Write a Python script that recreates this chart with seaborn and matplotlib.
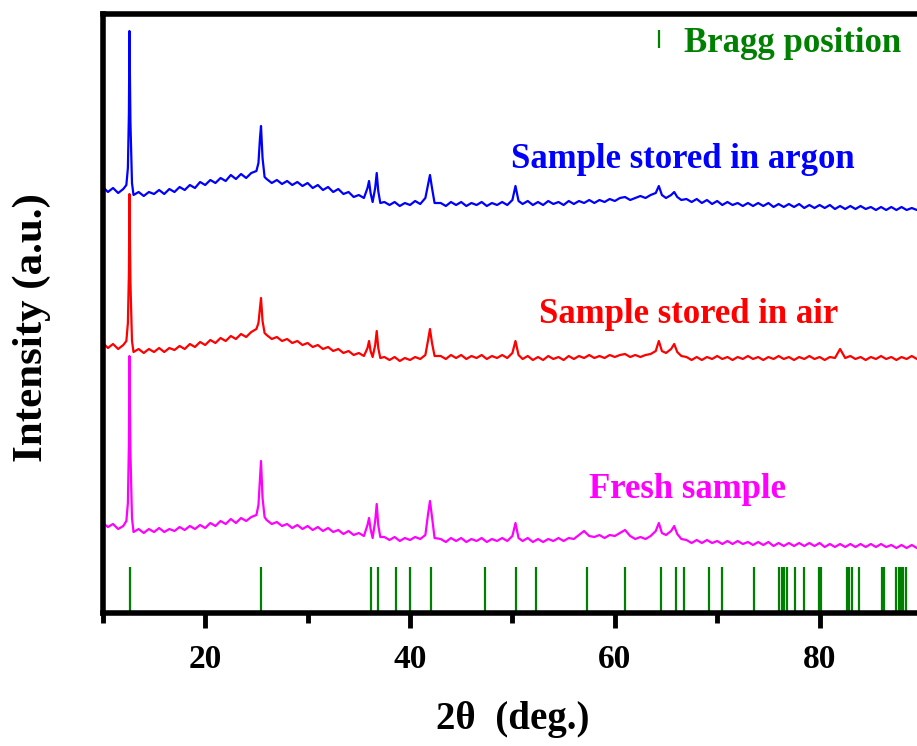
import matplotlib
matplotlib.use("Agg")
import matplotlib.pyplot as plt
import numpy as np
import pandas as pd
import seaborn as sns
from matplotlib.lines import Line2D

# ---------------- data ----------------
two_theta = [
    10.0, 10.5, 11.0, 11.5, 12.0,
    12.3, 12.45, 12.55, 12.6, 12.7, 12.85,
    13.0, 13.5, 14.0, 14.5, 15.0, 15.5, 16.0, 16.5, 17.0, 17.5, 18.0, 18.5, 19.0,
    19.5, 20.0, 20.5, 21.0, 21.5, 22.0, 22.5, 23.0, 23.5, 24.0, 24.5, 25.0,
    25.2, 25.35, 25.45, 25.6, 25.8,
    26.0, 26.5, 27.0, 27.5, 28.0, 28.5, 29.0, 29.5, 30.0, 30.5, 31.0, 31.5, 32.0,
    32.5, 33.0, 33.5, 34.0, 34.5, 35.0, 35.5,
    35.85, 36.0, 36.15, 36.35, 36.6, 36.75, 36.9, 37.1,
    37.5, 38.0, 38.5, 39.0, 39.5, 40.0, 40.5, 41.0, 41.5,
    41.75, 41.95, 42.15, 42.4,
    43.0, 43.5, 44.0, 44.5, 45.0, 45.5, 46.0, 46.5, 47.0, 47.5, 48.0, 48.5, 49.0,
    49.5, 50.0,
    50.3, 50.6,
    51.0, 51.5, 52.0, 52.5, 53.0, 53.5, 54.0, 54.5, 55.0, 55.5, 56.0, 56.5, 57.0,
    57.5, 58.0, 58.5, 59.0, 59.5, 60.0, 60.5, 61.0, 61.5, 62.0, 62.5, 63.0, 63.5,
    64.0,
    64.3, 64.6,
    65.0, 65.5, 65.8, 66.1, 66.5,
    67.0, 67.5, 68.0, 68.5, 69.0, 69.5, 70.0, 70.5, 71.0, 71.5, 72.0, 72.5, 73.0,
    73.5, 74.0, 74.5, 75.0, 75.5, 76.0, 76.5, 77.0, 77.5, 78.0, 78.5, 79.0, 79.5,
    80.0, 80.5, 81.0, 81.5, 82.0, 82.5, 83.0, 83.5, 84.0, 84.5, 85.0, 85.5, 86.0,
    86.5, 87.0, 87.5, 88.0, 88.5, 89.0, 89.5, 90.0,
]

argon = [
    426, 421, 425, 420, 424,
    428, 445, 500, 582, 490, 430,
    418, 421, 417, 421, 419, 423, 419, 424, 421, 426, 423, 428, 425,
    431, 428, 433, 430, 435, 432, 438, 434, 439, 435, 440, 442,
    450, 475, 487, 455, 436,
    434, 430, 433, 429, 432, 428, 431, 427, 430, 425, 428, 423, 426,
    421, 424, 419, 421, 416, 418, 415,
    425, 432, 420, 411, 425, 440, 422, 410,
    411, 408, 411, 407, 410, 408, 412, 409, 415,
    428, 438, 425, 410,
    410, 407, 411, 408, 411, 407, 410, 408, 411, 407, 410, 408, 411,
    408, 413,
    427, 412,
    409, 412, 408, 411, 408, 412, 409, 411, 408, 412, 409, 412, 410,
    413, 410, 413, 411, 414, 412, 415, 416, 413, 415, 417, 415, 418,
    420,
    427, 418,
    415, 418, 421, 416, 413,
    414, 411, 414, 410, 413, 409, 412, 408, 411, 408, 410, 407, 410,
    407, 410, 407, 410, 406, 409, 406, 409, 406, 409, 405, 408, 405,
    408, 405, 408, 404, 407, 404, 407, 404, 407, 404, 406, 403, 406,
    403, 406, 403, 406, 403, 405, 403, 405,
]

air = [
    270, 265, 269, 264, 268,
    272, 290, 340, 419, 330, 272,
    261, 264, 260, 264, 261, 265, 261, 265, 263, 267, 264, 269, 266,
    271, 268, 273, 270, 275, 272, 277, 274, 279, 276, 281, 284,
    290, 305, 315, 292, 280,
    278, 274, 276, 272, 274, 270, 272, 268, 270, 266, 268, 264, 266,
    262, 264, 260, 262, 258, 260, 257,
    265, 272, 262, 256, 268, 282, 265, 255,
    256, 253, 256, 252, 255, 253, 256, 254, 258,
    272, 284, 270, 257,
    257, 254, 258, 255, 258, 254, 257, 255, 258, 254, 257, 255, 258,
    255, 260,
    272, 258,
    254, 257, 253, 256, 253, 257, 254, 256, 253, 257, 254, 257, 255,
    258, 255, 257, 255, 258, 256, 258, 259, 256, 258, 256, 258, 259,
    262,
    272, 262,
    260, 264, 269, 261, 257,
    256, 253, 256, 253, 256, 254, 257, 254, 256, 253, 256, 254, 257,
    254, 256, 253, 256, 254, 257, 254, 256, 253, 256, 254, 257, 254,
    256, 253, 256, 255, 264, 255, 257, 254, 256, 253, 256, 254, 257,
    254, 256, 253, 256, 254, 257, 254, 256,
]

fresh = [
    90, 86, 89, 84, 87,
    92, 110, 170, 257, 160, 95,
    81, 84, 80, 84, 81, 85, 81, 84, 82, 86, 83, 87, 84,
    88, 85, 90, 87, 92, 89, 94, 90, 95, 92, 96, 98,
    108, 135, 152, 115, 96,
    93, 89, 91, 87, 89, 85, 88, 84, 87, 83, 86, 82, 85,
    81, 83, 79, 82, 78, 80, 77,
    88, 95, 84, 75, 92, 109, 88, 76,
    76, 73, 76, 72, 75, 73, 76, 74, 78,
    98, 112, 96, 75,
    74, 71, 75, 72, 75, 71, 74, 72, 75, 71, 74, 72, 75,
    72, 77,
    90, 75,
    72, 75, 71, 74, 71, 74, 72, 75, 72, 75, 74, 78, 82,
    77, 76, 78, 75, 78, 77, 80, 83, 77, 74, 76, 74, 77,
    82,
    90, 80,
    78, 82, 87, 79, 74,
    73, 70, 73, 70, 73, 70, 72, 69, 72, 69, 72, 69, 71,
    68, 71, 68, 71, 67, 70, 67, 70, 67, 70, 67, 70, 67,
    70, 66, 69, 66, 69, 66, 69, 66, 69, 66, 69, 66, 69,
    66, 68, 65, 68, 65, 68, 65, 68,
]

bragg_positions = [
    12.66, 25.45, 36.15, 36.9, 38.6, 40.0, 42.03, 47.29, 50.38, 52.26, 57.3,
    61.04, 64.49, 66.02, 66.73, 69.17, 70.47, 73.55, 76.08, 76.28, 76.5, 76.8,
    77.6, 78.5, 79.9, 80.1, 82.7, 82.9, 83.2, 83.86, 86.1, 86.25, 87.5, 87.75,
    87.94, 88.17, 88.4,
]
bragg_height = 46

series_names = ["Sample stored in argon", "Sample stored in air", "Fresh sample"]
series_colors = ["#0000FF", "#FF0000", "#FF00FF"]
bragg_label = "Bragg position"
bragg_color = "#008000"

x_major_ticks = [20, 40, 60, 80]
x_minor_ticks = [10, 30, 50, 70, 90]
x_label = "2\u03b8  (deg.)"
y_label = "Intensity (a.u.)"

# ---------------- build table ----------------
frames = []
for name, vals in zip(series_names, [argon, air, fresh]):
    frames.append(pd.DataFrame({"two_theta": two_theta, "intensity": vals, "sample": name}))
df = pd.concat(frames, ignore_index=True)

# ---------------- style ----------------
sns.set_theme(style="white")
plt.rcParams["font.family"] = ["Liberation Serif", "DejaVu Serif"]
plt.rcParams["font.weight"] = "bold"
plt.rcParams["text.color"] = "black"

W, H = 917, 746
fig = plt.figure(figsize=(W / 100, H / 100), dpi=100)
ax = fig.add_axes([102.8 / W, 133 / H, 819.2 / W, 599 / H])

sns.lineplot(
    data=df, x="two_theta", y="intensity", hue="sample",
    hue_order=series_names, palette=dict(zip(series_names, series_colors)),
    estimator=None, sort=False, linewidth=1.6, legend=False, ax=ax,
)

ax.vlines(bragg_positions, 0, bragg_height, color=bragg_color, linewidth=1.6)

# curve annotations
label_pos = {
    "Sample stored in argon": (66.6, 445),
    "Sample stored in air": (67.2, 290),
    "Fresh sample": (67.1, 115),
}
for name, col in zip(series_names, series_colors):
    x, y = label_pos[name]
    ax.text(x, y, name, color=col, fontsize=25, fontweight="bold",
            ha="center", va="baseline")

# Bragg legend
handle = Line2D([], [], color=bragg_color, marker="|", linestyle="None",
                markersize=13, markeredgewidth=1.6)
leg = ax.legend([handle], [bragg_label], loc="center left",
                bbox_to_anchor=(645.6 / W, 1 - 43 / H),
                bbox_transform=fig.transFigure, frameon=False,
                borderpad=0, borderaxespad=0, handlelength=0.8,
                handletextpad=0.3,
                prop={"family": "Liberation Serif", "weight": "bold", "size": 25})
for t in leg.get_texts():
    t.set_color(bragg_color)

# axes
ax.set_xlim(10, 90)
ax.set_ylim(0, 599)
ax.set_xticks(x_major_ticks)
ax.set_xticks(x_minor_ticks, minor=True)
ax.set_yticks([])
ax.tick_params(axis="x", which="major", direction="out", bottom=True,
               length=11, width=3.5, pad=11, labelsize=24, color="black",
               labelcolor="black")
ax.tick_params(axis="x", which="minor", direction="out", bottom=True,
               length=7, width=3.5, color="black")
for lab in ax.get_xticklabels():
    lab.set_fontweight("bold")

for s in ax.spines.values():
    s.set_linewidth(4)
    s.set_color("black")
    s.set_visible(True)

ax.set_xlabel(x_label, fontsize=28, fontweight="bold", color="black", va="center")
ax.xaxis.set_label_coords(0.5, (613 - 719) / 599)
ax.set_ylabel(y_label, fontsize=31, fontweight="bold", color="black", va="center")
ax.yaxis.set_label_coords((32 - 102.8) / 819.2, (613 - 328) / 599)

fig.savefig("out.png", dpi=100)
